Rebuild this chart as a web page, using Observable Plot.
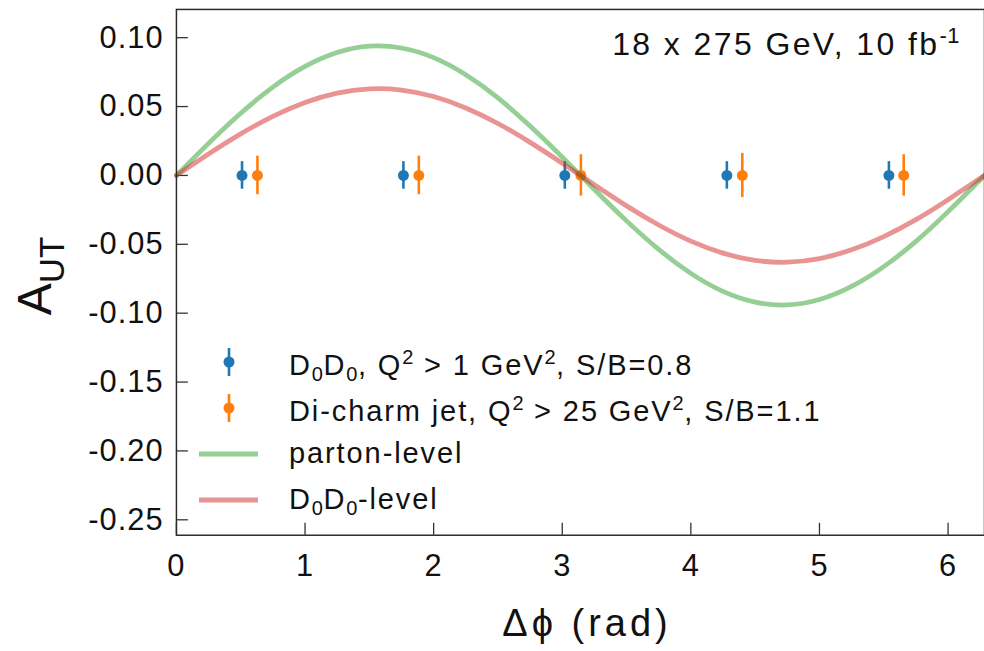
<!DOCTYPE html>
<html>
<head>
<meta charset="utf-8">
<script src="https://cdn.jsdelivr.net/npm/d3@7"></script>
<script src="https://cdn.jsdelivr.net/npm/@observablehq/plot@0.6"></script>
<style>
  html, body { margin: 0; padding: 0; background: #fff; }
  #wrap { position: relative; width: 984px; height: 651px; overflow: hidden; font-family: "Liberation Sans", Arial, sans-serif; color: #111; }
  #chart { position: absolute; left: 0; top: 0; }
  .txt { position: absolute; white-space: nowrap; line-height: 1; }
  #ylabel { left: -65px; top: 246px; width: 200px; height: 60px; line-height: 60px; text-align: center; transform: rotate(-90deg); font-size: 48px; }
  #ylabel span { font-size: 35px; vertical-align: -13px; }
  #xlabel { left: 487px; width: 200px; text-align: center; top: 604px; font-size: 38px; letter-spacing: 4px; }
  #anno { right: 24px; top: 25px; font-size: 32px; letter-spacing: 2.4px; }
  #anno sup { font-size: 22px; vertical-align: 12px; letter-spacing: 0.5px; }
  #legend { position: absolute; left: 196px; top: 339px; }
  .row { position: relative; height: 46px; font-size: 29px; letter-spacing: 1.9px; }
  .row svg { position: absolute; left: 0; top: 0; }
  .row .lab { position: absolute; left: 93px; top: 8px; white-space: nowrap; line-height: 1; }
  .lab sub { font-size: 20px; vertical-align: -6px; letter-spacing: 0.5px; }
  .lab sup { font-size: 20px; vertical-align: 11px; letter-spacing: 0.5px; }
</style>
</head>
<body>
<div id="wrap">
  <div id="chart"></div>
  <div class="txt" id="ylabel">A<span>UT</span></div>
  <div class="txt" id="xlabel">Δϕ (rad)</div>
  <div class="txt" id="anno">18 x 275 GeV, 10 fb<sup>-1</sup></div>
  <div id="legend"></div>
</div>
<script>
// ---- data ----
const phiD0 = [0.51, 1.765, 3.02, 4.28, 5.54];
const autD0 = [0, 0, 0, 0, 0];
const errD0 = [0.010, 0.010, 0.010, 0.010, 0.010];

const phiJet = [0.63, 1.885, 3.145, 4.40, 5.655];
const autJet = [0, 0, 0, 0, 0];
const errJet = [0.014, 0.014, 0.015, 0.016, 0.015];

const curvePhi = [0, 0.25, 0.5, 0.75, 1.0, 1.25, 1.5, 1.75, 2.0, 2.25, 2.5, 2.75, 3.0, 3.25, 3.5, 3.75, 4.0, 4.25, 4.5, 4.75, 5.0, 5.25, 5.5, 5.75, 6.0, 6.25, 6.283];
const partonAut = [0, 0.0233, 0.0451, 0.0641, 0.0791, 0.0892, 0.0938, 0.0925, 0.0855, 0.0731, 0.0563, 0.0358, 0.0133, -0.0102, -0.0330, -0.0537, -0.0711, -0.0842, -0.0920, -0.0940, -0.0901, -0.0806, -0.0662, -0.0479, -0.0263, -0.0031, 0];
const d0levelAut = [0, 0.0156, 0.0302, 0.0429, 0.0530, 0.0598, 0.0628, 0.0620, 0.0573, 0.0490, 0.0377, 0.0240, 0.0089, -0.0068, -0.0221, -0.0360, -0.0477, -0.0564, -0.0617, -0.0630, -0.0604, -0.0540, -0.0444, -0.0321, -0.0176, -0.0021, 0];

const xTicks = [0, 1, 2, 3, 4, 5, 6];
const yTicks = [0.10, 0.05, 0.00, -0.05, -0.10, -0.15, -0.20, -0.25];

const colD0 = "#1f77b4", colJet = "#ff7f0e", colParton = "#2ca02c", colLevel = "#d62728";

// ---- tables ----
const d0 = phiD0.map((x, i) => ({x, y: autD0[i], e: errD0[i]}));
const jet = phiJet.map((x, i) => ({x, y: autJet[i], e: errJet[i]}));
const parton = curvePhi.map((x, i) => ({x, y: partonAut[i]}));
const level = curvePhi.map((x, i) => ({x, y: d0levelAut[i]}));

const chart = Plot.plot({
  width: 990,
  height: 651,
  marginLeft: 177,
  marginRight: 0,
  marginTop: 9,
  marginBottom: 113,
  style: {fontFamily: "Liberation Sans, Arial, sans-serif", fontSize: "31px", color: "#111", letterSpacing: "1px", background: "transparent"},
  x: {domain: [0, 2 * Math.PI], label: null},
  y: {domain: [-0.2612, 0.1205], label: null},
  marks: [
    Plot.axisY({ticks: yTicks, tickFormat: d => d.toFixed(2), tickSize: -12, tickPadding: 25, label: null, stroke: "#333", strokeWidth: 1.3}),
    Plot.axisX({ticks: xTicks, tickFormat: d => String(d), tickSize: -12, tickPadding: 31, label: null, stroke: "#333", strokeWidth: 1.3}),
    Plot.ruleX(d0, {x: "x", y1: d => d.y - d.e, y2: d => d.y + d.e, stroke: colD0, strokeWidth: 2.6}),
    Plot.dot(d0, {x: "x", y: "y", r: 5.5, fill: colD0}),
    Plot.ruleX(jet, {x: "x", y1: d => d.y - d.e, y2: d => d.y + d.e, stroke: colJet, strokeWidth: 2.6}),
    Plot.dot(jet, {x: "x", y: "y", r: 5.5, fill: colJet}),
    Plot.line(parton, {x: "x", y: "y", stroke: colParton, strokeOpacity: 0.5, strokeWidth: 4.8, curve: "natural"}),
    Plot.line(level, {x: "x", y: "y", stroke: colLevel, strokeOpacity: 0.5, strokeWidth: 4.8, curve: "natural"}),
    Plot.frame({stroke: "#2a2a2a", strokeWidth: 1.5})
  ]
});
document.getElementById("chart").appendChild(chart);

// ---- legend ----
const legendItems = [
  {kind: "err", color: colD0, err: 14, html: "D<sub>0</sub>D<sub>0</sub>, Q<sup>2</sup> &gt; 1 GeV<sup>2</sup>, S/B=0.8"},
  {kind: "err", color: colJet, err: 14, html: "Di-charm jet, Q<sup>2</sup> &gt; 25 GeV<sup>2</sup>, S/B=1.1"},
  {kind: "line", color: colParton, html: "parton-level"},
  {kind: "line", color: colLevel, html: "D<sub>0</sub>D<sub>0</sub>-level"}
];
const legend = document.getElementById("legend");
for (const it of legendItems) {
  const row = document.createElement("div");
  row.className = "row";
  let sw;
  if (it.kind === "err") {
    sw = `<svg width="70" height="46"><line x1="33" x2="33" y1="${23 - it.err}" y2="${23 + it.err}" stroke="${it.color}" stroke-width="2.6"/><circle cx="33" cy="23" r="5.5" fill="${it.color}"/></svg>`;
  } else {
    sw = `<svg width="70" height="46"><line x1="3" x2="62" y1="23" y2="23" stroke="${it.color}" stroke-opacity="0.5" stroke-width="4.8"/></svg>`;
  }
  row.innerHTML = sw + `<div class="lab">${it.html}</div>`;
  legend.appendChild(row);
}
</script>
</body>
</html>
